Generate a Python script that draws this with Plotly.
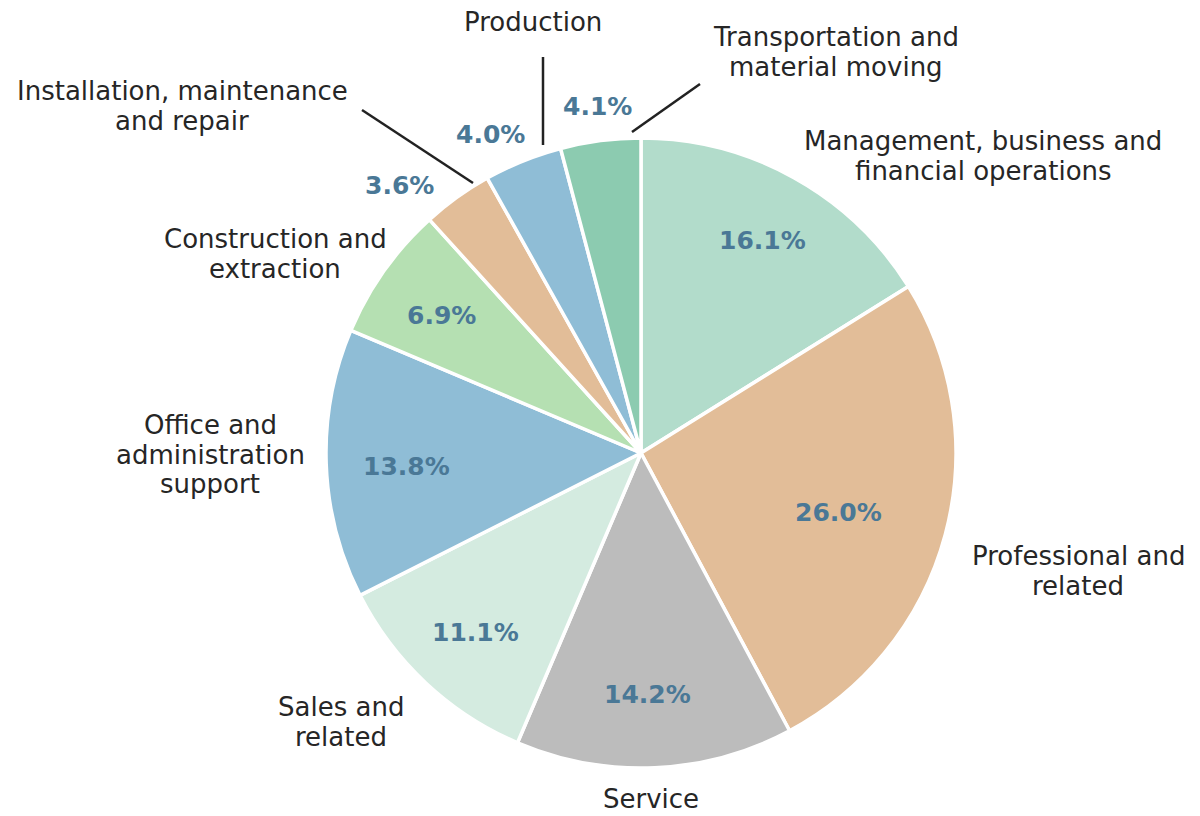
import plotly.graph_objects as go

W, H = 1200, 816

categories = [
    "Management, business and<br>financial operations",
    "Professional and<br>related",
    "Service",
    "Sales and<br>related",
    "Office and<br>administration<br>support",
    "Construction and<br>extraction",
    "Installation, maintenance<br>and repair",
    "Production",
    "Transportation and<br>material moving",
]
shares = [16.1, 26.0, 14.2, 11.1, 13.8, 6.9, 3.6, 4.0, 4.1]
colors = ["#b2dccb", "#e2bd98", "#bcbcbc", "#d4ebe0", "#8fbdd6",
          "#b5e0b2", "#e2bd98", "#8fbdd6", "#8ccbb0"]
pct_labels = [f"{v:.1f}%" for v in shares]

# layout (pixel) positions of labels: centre x, y of first line
label_pos = [(983, 141), (1078, 556), (651, 799), (341, 707), (210, 425),
             (275, 239), (182, 91), (533, 22), (836, 37)]
line_gap = 29.5
pct_pos = [(762, 240), (838, 512), (647, 694), (475, 632), (406, 466),
           (441, 316), (399, 186), (490, 135), (597, 107)]
leaders = [((362, 110), (473, 183)), ((543, 57), (543, 145)), ((700, 84), (632, 132))]

cx, cy, R = 641, 453, 315


def px(x):
    return x / W


def py(y):
    return 1 - y / H


fig = go.Figure(go.Pie(
    labels=[c.replace("<br>", " ") for c in categories],
    values=shares,
    sort=False,
    direction="clockwise",
    rotation=0,
    marker=dict(colors=colors, line=dict(color="white", width=3.5)),
    textinfo="none",
    hoverinfo="label+percent",
    showlegend=False,
    domain=dict(x=[px(cx - R), px(cx + R)], y=[py(cy + R), py(cy - R)]),
))

annotations = []
for lab, (x, y) in zip(categories, label_pos):
    for i, line in enumerate(lab.split("<br>")):
        annotations.append(dict(x=px(x), y=py(y + i * line_gap), xref="paper", yref="paper",
                                text=line, showarrow=False, xanchor="center", yanchor="middle",
                                font=dict(family="DejaVu Sans", size=26, color="#262626")))
for lab, (x, y) in zip(pct_labels, pct_pos):
    annotations.append(dict(x=px(x), y=py(y), xref="paper", yref="paper",
                            text=f"<b>{lab}</b>",
                            showarrow=False, xanchor="center", yanchor="middle",
                            font=dict(family="DejaVu Sans", size=25, color="#4a7896")))

shapes = []
for (x0, y0), (x1, y1) in leaders:
    shapes.append(dict(type="line", xref="paper", yref="paper",
                       x0=px(x0), y0=py(y0), x1=px(x1), y1=py(y1),
                       line=dict(color="#222222", width=2.5)))

fig.update_layout(
    width=W, height=H,
    margin=dict(l=0, r=0, t=0, b=0),
    paper_bgcolor="white", plot_bgcolor="white",
    annotations=annotations, shapes=shapes,
)

fig.write_html("out.html", config={"displayModeBar": False},
               post_script="document.body.style.margin='0px';")
